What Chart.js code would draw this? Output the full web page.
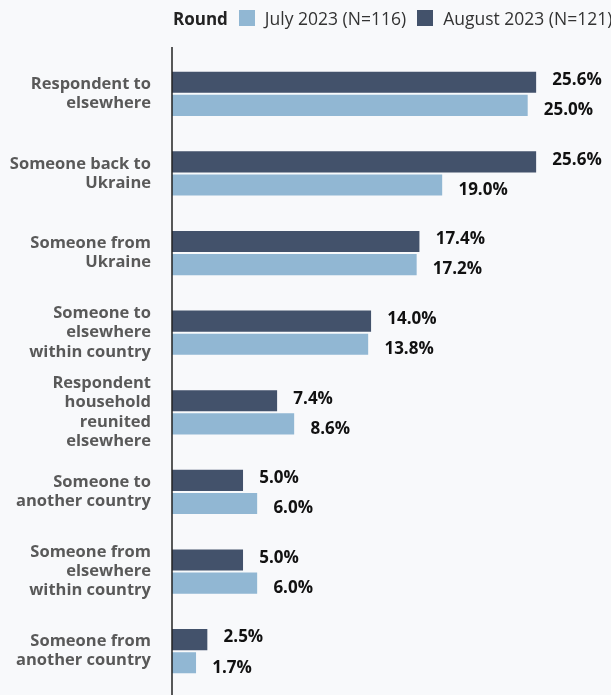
<!DOCTYPE html>
<html>
<head>
<meta charset="utf-8">
<script src="https://cdn.jsdelivr.net/npm/chart.js@4"></script>
<style>
  html, body { margin: 0; padding: 0; background: #f8f9fb; }
  #wrap { position: relative; width: 611px; height: 695px; overflow: hidden; }
  #legend { position: absolute; left: 173px; top: 6px; font-family: "Open Sans", sans-serif; font-size: 17.5px; color: #333; white-space: nowrap; display: flex; align-items: center; }
  #legend b { color: #222; margin-right: 11px; font-size: 17px; }
  .sw { display: inline-block; width: 16px; height: 16px; margin-right: 10px; }
  .it { margin-right: 11px; }
</style>
</head>
<body>
<div id="wrap">
  <div id="legend">
    <b>Round</b>
    <span class="sw" style="background:#91b7d3"></span><span class="it">July 2023 (N=116)</span>
    <span class="sw" style="background:#43526b"></span><span class="it">August 2023 (N=121)</span>
  </div>
  <canvas id="myChart1" width="611" height="695"></canvas>
</div>
<script>
const categories = [
  ['Respondent to', 'elsewhere'],
  ['Someone back to', 'Ukraine'],
  ['Someone from', 'Ukraine'],
  ['Someone to', 'elsewhere', 'within country'],
  ['Respondent', 'household', 'reunited', 'elsewhere'],
  ['Someone to', 'another country'],
  ['Someone from', 'elsewhere', 'within country'],
  ['Someone from', 'another country']
];
const august2023 = [25.6, 25.6, 17.4, 14.0, 7.4, 5.0, 5.0, 2.5];
const july2023 = [25.0, 19.0, 17.2, 13.8, 8.6, 6.0, 6.0, 1.7];

const fontFamily = '"Open Sans", sans-serif';

// value labels next to each bar (top one nudged up, lower one down)
const valueLabels = {
  id: 'valueLabels',
  afterDatasetsDraw(chart) {
    const ctx = chart.ctx;
    ctx.save();
    ctx.font = `bold 17px ${fontFamily}`;
    ctx.fillStyle = '#111';
    ctx.textBaseline = 'middle';
    ctx.textAlign = 'left';
    chart.data.datasets.forEach((ds, i) => {
      let dy = i === 0 ? -2 : 5;
      chart.getDatasetMeta(i).data.forEach((bar, j) => {
        ctx.fillText(ds.data[j].toFixed(1) + '%', bar.x + 16, bar.y + dy);
      });
    });
    ctx.restore();
  }
};

// vertical axis line
const axisLine = {
  id: 'axisLine',
  afterDraw(chart) {
    const ctx = chart.ctx;
    const x = chart.chartArea.left;
    ctx.save();
    ctx.strokeStyle = '#222';
    ctx.lineWidth = 1.5;
    ctx.beginPath();
    ctx.moveTo(x, 47);
    ctx.lineTo(x, 695);
    ctx.stroke();
    ctx.restore();
  }
};

const config = {
  type: 'bar',
  data: {
    labels: categories,
    datasets: [
      { label: 'August 2023 (N=121)', data: august2023, backgroundColor: '#43526b', borderColor: '#f8f9fb', borderWidth: { top: 1, bottom: 1, left: 0, right: 0 }, borderSkipped: false },
      { label: 'July 2023 (N=116)', data: july2023, backgroundColor: '#91b7d3', borderColor: '#f8f9fb', borderWidth: { top: 1, bottom: 1, left: 0, right: 0 }, borderSkipped: false }
    ]
  },
  options: {
    indexAxis: 'y',
    responsive: false,
    animation: false,
    layout: { padding: { top: 54, bottom: 4, right: 12, left: 0 } },
    categoryPercentage: 0.58,
    barPercentage: 1,
    plugins: { legend: { display: false }, tooltip: { enabled: false } },
    scales: {
      x: { display: false, min: 0, max: 30 },
      y: {
        grid: { display: false, drawTicks: false },
        border: { display: false },
        ticks: { padding: 21, color: '#595959', font: { family: fontFamily, size: 16.5, weight: 'bold', lineHeight: 1.16 } },
        afterFit(scale) {
          scale.width = 172;
          scale.paddingTop = 0;
          scale.paddingBottom = 0;
        }
      }
    }
  },
  plugins: [valueLabels, axisLine]
};

new Chart(document.getElementById('myChart1').getContext('2d'), config);
</script>
</body>
</html>
